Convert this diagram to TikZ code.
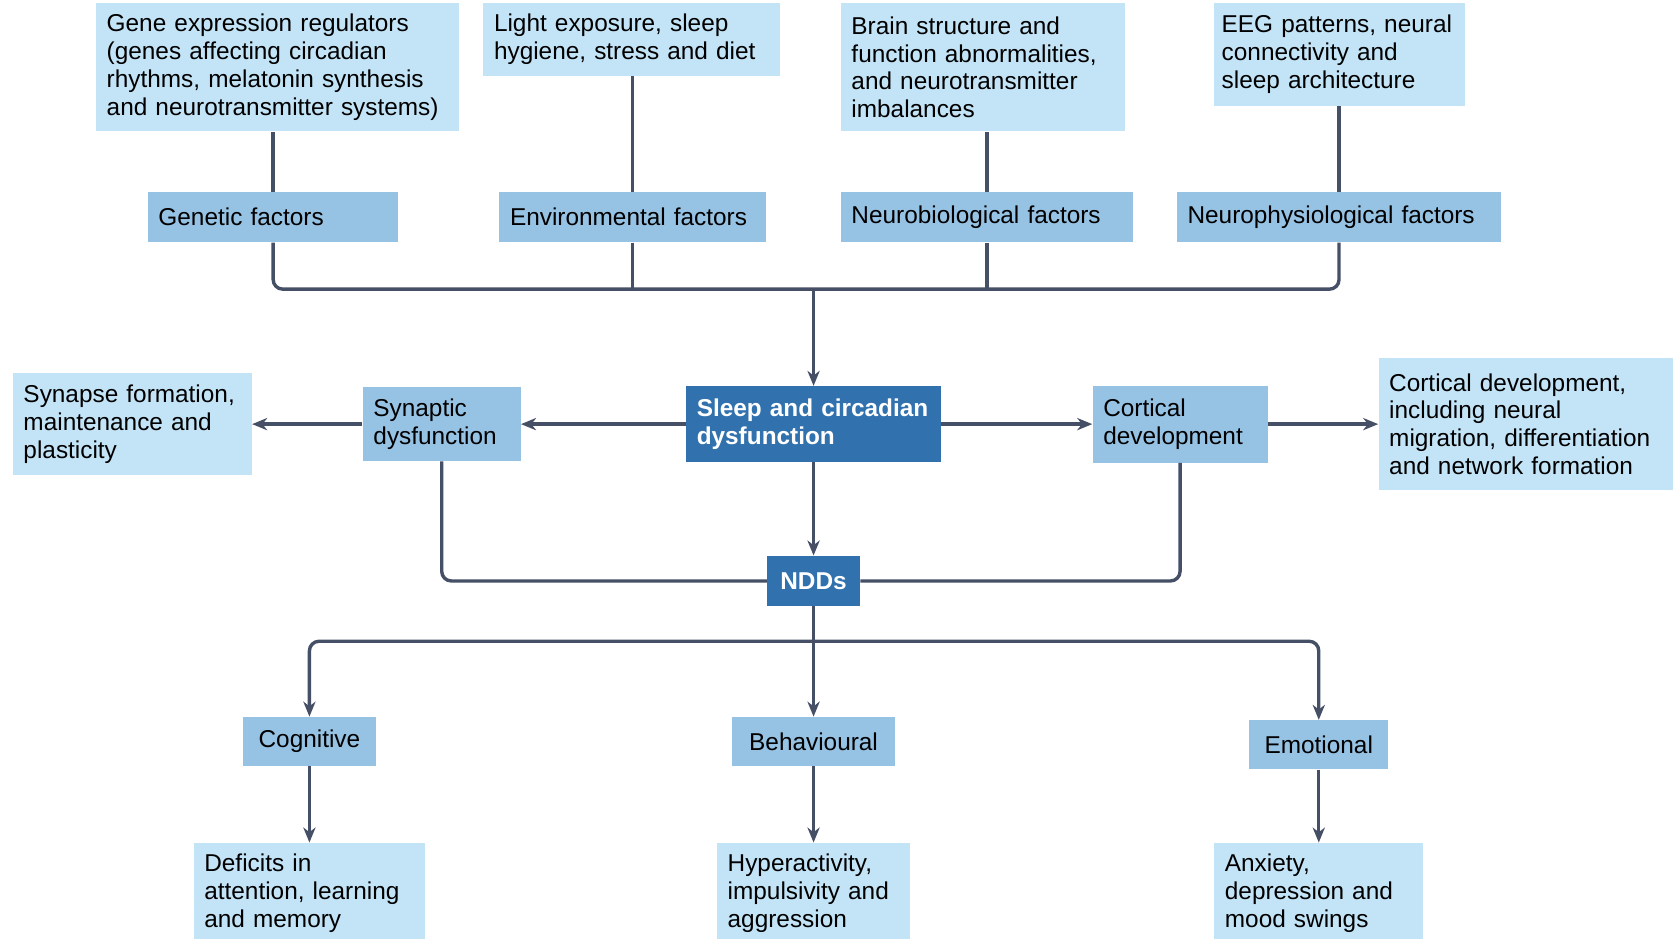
\documentclass[tikz,border=0pt]{standalone}
\usepackage{fontspec}
\setmainfont{Liberation Sans}
\usepackage{tikz}
\usetikzlibrary{arrows.meta}
\definecolor{boxlight}{HTML}{C3E4F7}
\definecolor{boxmid}{HTML}{96C2E4}
\definecolor{boxdark}{HTML}{3171AE}
\definecolor{linegray}{HTML}{454F66}

\begin{document}
\begin{tikzpicture}[x=0.02cm, y=-0.02cm,
  txt/.style={font=\fontsize{13pt}{14.8pt}\selectfont, inner ysep=0pt, inner xsep=0.2cm, align=left},
  detail/.style={txt, fill=boxlight},
  factor/.style={txt, fill=boxmid, minimum height=0.94cm},
  core/.style={txt, fill=boxdark, text=white, font=\fontsize{13pt}{14.8pt}\selectfont\bfseries},
  outcome/.style={txt, fill=boxmid, minimum height=0.92cm, inner xsep=0pt, align=center},
  conn/.style={draw=linegray, line width=1.8pt, rounded corners=0.18cm},
  arr/.style={conn, -{Stealth[length=8pt, width=6.5pt, inset=2.5pt]}}
]
  \clip (0,0) rectangle (1568,880);

  % 1. Details of the four factors
  \node[detail, text width=6.4cm, minimum height=2.4cm] (gene) at (260,63) {Gene expression regulators\\(genes affecting circadian\\rhythms, melatonin synthesis\\and neurotransmitter systems)};
  \node[detail, text width=5.16cm, minimum height=1.36cm] (light) at (592,37) {Light exposure, sleep\\hygiene, stress and diet};
  \node[detail, text width=4.92cm, minimum height=2.4cm] (brain) at (921,63) {Brain structure and\\function abnormalities,\\and neurotransmitter\\imbalances};
  \node[detail, inner xsep=0.14cm, text width=4.42cm, minimum height=1.92cm] (eeg) at (1255.5,51) {EEG patterns, neural\\connectivity and\\sleep architecture};

  % 2. Factors
  \node[factor, text width=4.3cm] (genetic) at (256,203.5) {Genetic factors};
  \node[factor, text width=4.6cm] (environ) at (593,203.5) {Environmental factors};
  \node[factor, text width=5.08cm] (neurobio) at (925,203.5) {Neurobiological factors};
  \node[factor, text width=5.68cm] (neurophys) at (1255,203.5) {Neurophysiological factors};

  \foreach \top/\fac in {gene/genetic, light/environ, brain/neurobio, eeg/neurophys}
    \draw[conn] (\fac.north) -- (\fac.north |- \top.south);

  % Factors join into one line
  \coordinate (hub) at (762.5,271);
  \draw[conn] (genetic.south) |- (hub) -| (neurophys.south);
  \draw[conn] (environ.south) -- (environ.south |- hub);
  \draw[conn] (neurobio.south) -- (neurobio.south |- hub);

  % 3. Sleep and circadian dysfunction
  \node[core, text width=4.38cm, minimum height=1.42cm] (sleep) at (762.5,397.5) {Sleep and circadian\\dysfunction};
  \draw[arr] (hub) -- (sleep.north);

  \node[factor, text width=2.56cm, minimum height=1.38cm] (synaptic) at (414,397.5) {Synaptic\\dysfunction};
  \node[detail, text width=4.08cm, minimum height=1.92cm] (synform) at (124,397.5) {Synapse formation,\\maintenance and\\plasticity};
  \node[factor, text width=2.88cm, minimum height=1.44cm] (cortical) at (1106,397.5) {Cortical\\development};
  \node[detail, text width=5.12cm, minimum height=2.48cm] (cortex) at (1430,397.5) {Cortical development,\\including neural\\migration, differentiation\\and network formation};

  \draw[arr] (sleep.west) -- (synaptic.east);
  \draw[arr] (synaptic.west) -- (synform.east);
  \draw[arr] (sleep.east) -- (cortical.west);
  \draw[arr] (cortical.east) -- (cortex.west);

  % 4. NDDs
  \node[core, align=center, inner xsep=0pt, minimum width=1.74cm, minimum height=0.94cm] (ndds) at (762.5,544.5) {NDDs};
  \draw[arr] (sleep.south) -- (ndds.north);
  \draw[conn] (synaptic.south) |- (ndds.west);
  \draw[conn] (cortical.south) |- (ndds.east);

  % 5. Domains affected
  \node[outcome, minimum width=2.48cm] (cognitive) at (290,695) {Cognitive};
  \node[outcome, minimum width=3.04cm] (behavioural) at (762.5,695) {Behavioural};
  \node[outcome, minimum width=2.6cm] (emotional) at (1236,698) {Emotional};

  \coordinate (split) at (762.5,601);
  \draw[conn] (ndds.south) -- (split);
  \draw[arr] (split) -| (cognitive.north);
  \draw[arr] (split) -| (emotional.north);
  \draw[arr] (split) -- (behavioural.north);

  \node[detail, text width=3.94cm, minimum height=1.88cm] (deficits) at (290,837) {Deficits in\\attention, learning\\and memory};
  \node[detail, text width=3.22cm, minimum height=1.88cm] (hyper) at (762.5,837) {Hyperactivity,\\impulsivity and\\aggression};
  \node[detail, text width=3.52cm, minimum height=1.88cm] (anxiety) at (1236,837) {Anxiety,\\depression and\\mood swings};

  \draw[arr] (cognitive.south) -- (deficits.north);
  \draw[arr] (behavioural.south) -- (hyper.north);
  \draw[arr] (emotional.south) -- (anxiety.north);

\end{tikzpicture}
\end{document}
